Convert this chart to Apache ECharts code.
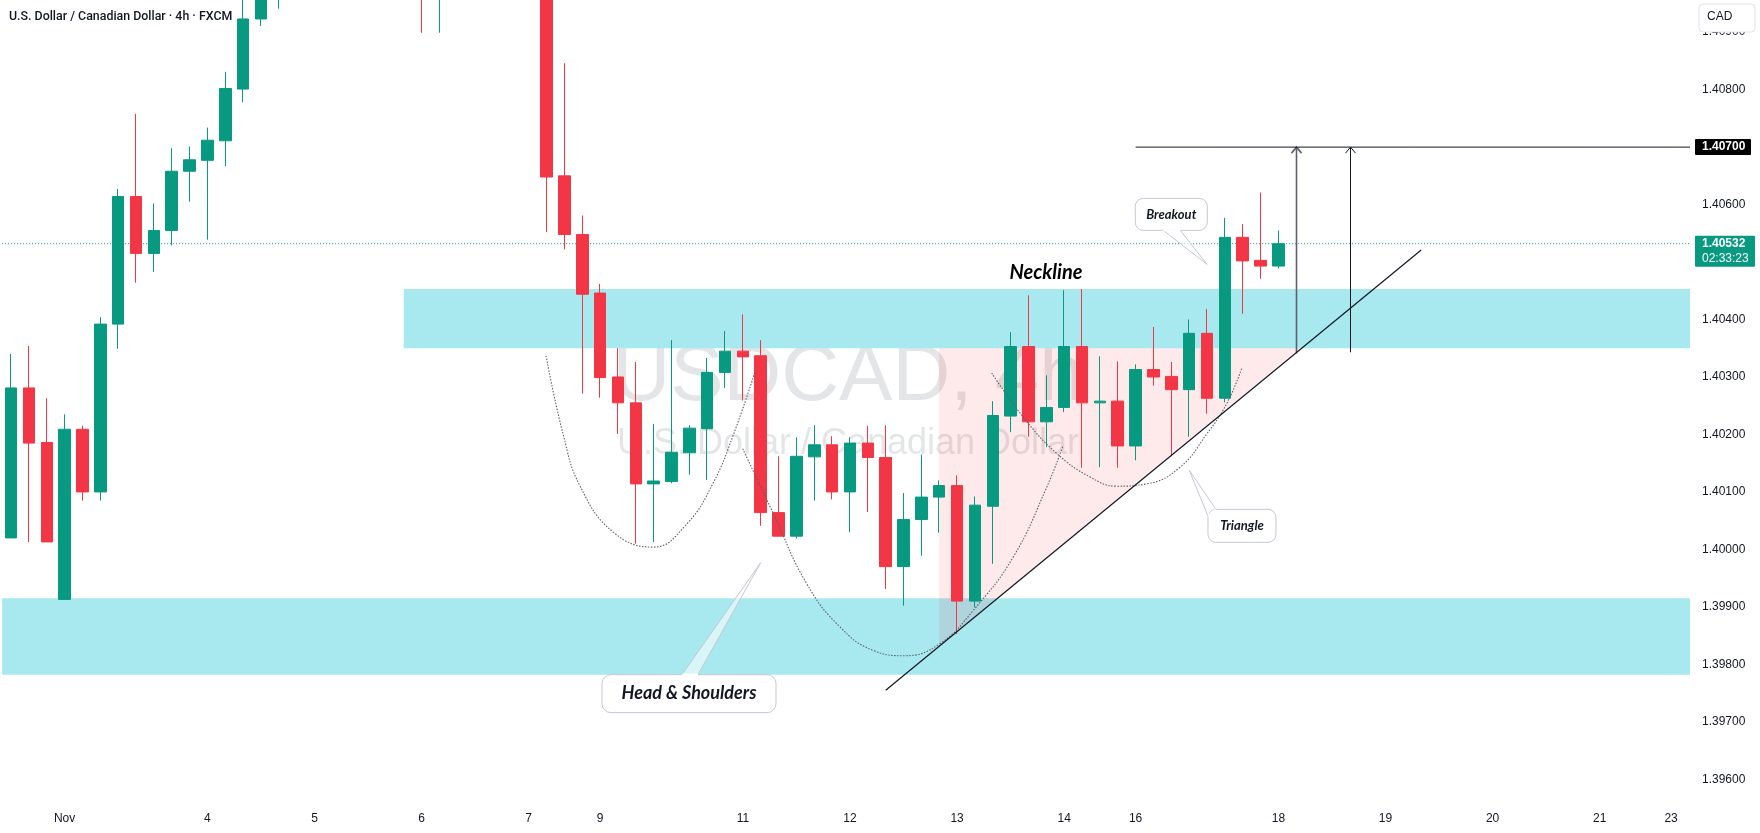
<!DOCTYPE html>
<html>
<head>
<meta charset="utf-8">
<title>USDCAD 4h</title>
<script src="https://cdn.jsdelivr.net/npm/echarts@6/dist/echarts.min.js"></script>
<style>
  html, body { margin: 0; padding: 0; background: #ffffff; }
  #chart { width: 1760px; height: 833px; }
</style>
</head>
<body>
<div id="chart"></div>
<script>
// USDCAD 4h (FXCM) - one entry per candle slot, index 0 = last candles of Oct 31
const opens = [
  1.40020, 1.40281, 1.40186, 1.39913, 1.40209, 1.40100, 1.40392, 1.40614, 1.40515, 1.40555,
  1.40658, 1.40677, 1.40711, 1.40801, 1.40923, 1.41015, 1.41060, 1.41120, 1.41090, 1.41150,
  1.41130, 1.41080, 1.41100, 1.41060, 1.41020, 1.41050, 1.41100, 1.41070, 1.41060, 1.41030,
  1.41010, 1.40650, 1.40548, 1.40446, 1.40300, 1.40255, 1.40114, 1.40118, 1.40168, 1.40210,
  1.40308, 1.40345, 1.40337, 1.40064, 1.40023, 1.40161, 1.40182, 1.40100, 1.40185, 1.40160,
  1.39970, 1.40052, 1.40091, 1.40111, 1.39910, 1.40075, 1.40232, 1.40353, 1.40222, 1.40247,
  1.40353, 1.40255, 1.40258, 1.40180, 1.40313, 1.40301, 1.40278, 1.40376, 1.40263, 1.40543,
  1.40503, 1.40493
];
const closes = [
  1.40281, 1.40185, 1.40013, 1.40209, 1.40100, 1.40392, 1.40614, 1.40515, 1.40555, 1.40658,
  1.40678, 1.40712, 1.40802, 1.40923, 1.41015, 1.41060, 1.41120, 1.41090, 1.41150, 1.41130,
  1.41080, 1.41100, 1.41060, 1.41020, 1.41050, 1.41100, 1.41070, 1.41060, 1.41030, 1.41010,
  1.40648, 1.40548, 1.40444, 1.40299, 1.40255, 1.40114, 1.40119, 1.40169, 1.40211, 1.40308,
  1.40345, 1.40335, 1.40064, 1.40023, 1.40162, 1.40182, 1.40100, 1.40185, 1.40160, 1.39970,
  1.40052, 1.40091, 1.40111, 1.39910, 1.40077, 1.40233, 1.40353, 1.40222, 1.40247, 1.40353,
  1.40255, 1.40258, 1.40180, 1.40313, 1.40300, 1.40278, 1.40376, 1.40263, 1.40543, 1.40502,
  1.40493, 1.40532
];
const lows = [
  1.40020, 1.40013, 1.40013, 1.39913, 1.40085, 1.40085, 1.40349, 1.40464, 1.40483, 1.40529,
  1.40605, 1.40539, 1.40667, 1.40778, 1.40911, 1.40941, 1.41030, 1.41050, 1.41070, 1.41100,
  1.41040, 1.41020, 1.41000, 1.40899, 1.40899, 1.41010, 1.41030, 1.41000, 1.40990, 1.40975,
  1.40552, 1.40522, 1.40271, 1.40264, 1.40201, 1.40010, 1.40013, 1.40115, 1.40130, 1.40121,
  1.40281, 1.40259, 1.40041, 1.40023, 1.40019, 1.40085, 1.40087, 1.40030, 1.40065, 1.39931,
  1.39902, 1.39989, 1.40029, 1.39853, 1.39899, 1.39975, 1.40204, 1.40196, 1.40178, 1.40239,
  1.40142, 1.40143, 1.40142, 1.40155, 1.40285, 1.40162, 1.40196, 1.40236, 1.40256, 1.40410,
  1.40471, 1.40489
];
const highs = [
  1.40340, 1.40354, 1.40263, 1.40235, 1.40215, 1.40404, 1.40627, 1.40758, 1.40602, 1.40698,
  1.40701, 1.40734, 1.40831, 1.40970, 1.41040, 1.41090, 1.41150, 1.41180, 1.41200, 1.41190,
  1.41160, 1.41130, 1.41120, 1.41090, 1.41080, 1.41130, 1.41140, 1.41100, 1.41090, 1.41050,
  1.41030, 1.40846, 1.40581, 1.40462, 1.40350, 1.40326, 1.40218, 1.40364, 1.40216, 1.40333,
  1.40380, 1.40409, 1.40364, 1.40162, 1.40195, 1.40216, 1.40197, 1.40195, 1.40215, 1.40216,
  1.40098, 1.40165, 1.40120, 1.40129, 1.40092, 1.40258, 1.40378, 1.40442, 1.40303, 1.40451,
  1.40453, 1.40336, 1.40327, 1.40322, 1.40387, 1.40326, 1.40400, 1.40418, 1.40577, 1.40566,
  1.40621, 1.40555
];

// time scale labels: [candle slot, text]
const dayTicks = [
  [3, 'Nov'], [11, '4'], [17, '5'], [23, '6'], [29, '7'], [33, '9'], [41, '11'], [47, '12'],
  [53, '13'], [59, '14'], [63, '16'], [71, '18'], [77, '19'], [83, '20'], [89, '21'], [93, '23']
];

// price levels drawn on the chart
const lastPrice = 1.40532;
const targetPrice = 1.40700;
const tagPrices = [1.40700, 1.40532];
const tagLines = [['1.40700'], ['1.40532', '02:33:23']];

// support / resistance zones: [fromSlot, topPrice, toSlot, bottomPrice]
const X_MIN = -0.5;
const X_MAX = 94.06;
const zoneBounds = [
  [22, 1.40453, X_MAX, 1.40350],
  [X_MIN, 1.39915, X_MAX, 1.39782]
];

// ascending triangle
const trianglePts = [[52, 1.40350], [72.2, 1.40350], [52, 1.39832]];
const trendPts = [[49, 1.39755], [79, 1.40521]];
const targetPts = [[63, targetPrice], [X_MAX, targetPrice]];

// measured move arrows: [slot, fromPrice, toPrice]
const arrowPts = [[72, 1.40341, 1.40700], [75, 1.40343, 1.40700]];

// head & shoulders arcs (dotted)
const leftShoulder = [
  [29.97, 1.40337], [30.94, 1.40199], [31.88, 1.40110], [33.74, 1.40030], [35.98, 1.40004],
  [37.85, 1.40044], [39.34, 1.40116], [40.46, 1.40199], [41.68, 1.40309]
];
const headArc = [
  [40.99, 1.40175], [42.71, 1.40062], [44.58, 1.39940], [46.44, 1.39865], [48.31, 1.39824],
  [50.08, 1.39815], [52.04, 1.39836], [53.91, 1.39894], [56.15, 1.39987], [58.02, 1.40108],
  [58.94, 1.40181]
];
const rightShoulder = [
  [54.94, 1.40307], [56.71, 1.40230], [58.58, 1.40167], [60.45, 1.40126], [61.94, 1.40110],
  [63.63, 1.40114], [65.49, 1.40143], [66.99, 1.40201], [68.11, 1.40254], [68.95, 1.40315]
];

// callouts: tip [slot, price] and box centre [slot, price]
const calloutTexts = ['Breakout', 'Triangle', 'Head & Shoulders'];
const calloutTips = [[67.0, 1.40496], [66.0, 1.40138], [42.0, 1.39977]];
const calloutBoxes = [[65.0, 1.40583], [68.96, 1.40041], [37.98, 1.39749]];
const calloutLook = [
  { w: 72, h: 32, r: 8, font: 13, base: [[-8, 16], [9, 16]] },
  { w: 68, h: 33, r: 8, font: 13, base: [[-34, -10], [-26, -16.5]] },
  { w: 174, h: 38, r: 9, font: 18, base: [[-7, -19], [9, -19]] }
];
const noteTexts = ['Neckline'];
const notePts = [[57.98, 1.40482]];

const UP = '#089981';
const DOWN = '#F23645';
const INK = '#131722';
const ZONE = '#a8e8ef';
const FONT = '"Liberation Sans", Arial, sans-serif';
const NOTE_FONT = 'Lato, "Open Sans", sans-serif';

const dayLabel = {};
dayTicks.forEach(([i, t]) => { dayLabel[i] = t; });

const candles = opens.map((o, i) => [i, o, closes[i], lows[i], highs[i]]);

const chart = echarts.init(document.getElementById('chart'));

const option = {
  animation: false,
  backgroundColor: '#ffffff',
  grid: {
    left: 2.14, right: 70, top: 0, bottom: 25,
    containLabel: false,
    outerBoundsMode: 'none'
  },
  xAxis: {
    type: 'value',
    min: X_MIN,
    max: X_MAX,
    interval: 0.5,
    axisLine: { show: false },
    axisTick: { show: false },
    splitLine: { show: false },
    axisLabel: {
      margin: 5,
      color: INK,
      fontSize: 12,
      fontFamily: FONT,
      showMinLabel: false,
      showMaxLabel: false,
      formatter: (v) => {
        const k = Math.round(v);
        return Math.abs(v - k) < 1e-6 && dayLabel[k] ? dayLabel[k] : '';
      }
    }
  },
  yAxis: {
    type: 'value',
    position: 'right',
    min: 1.3955,
    max: 1.40956,
    interval: 0.0005,
    scale: true,
    axisLine: { show: false },
    axisTick: { show: false },
    splitLine: { show: false },
    axisLabel: {
      margin: 12,
      align: 'left',
      color: INK,
      fontSize: 12,
      fontFamily: FONT,
      formatter: (v) => {
        const k = v * 1000;
        return Math.abs(k - Math.round(k)) < 1e-6 ? v.toFixed(5) : '';
      }
    }
  },
  graphic: [
    {
      type: 'text', left: 9, top: 11, z: 50,
      style: { text: 'U.S. Dollar / Canadian Dollar · 4h · FXCM', fill: INK, font: '500 12.4px Roboto, sans-serif' }
    },
    {
      type: 'text', x: 848, y: 378, z: 0,
      style: {
        text: 'USDCAD, 4h', fill: 'rgba(120,123,134,0.2)', font: '80px "Liberation Sans", Arial, sans-serif',
        align: 'center', verticalAlign: 'middle'
      }
    },
    {
      type: 'text', x: 848, y: 444, z: 0,
      style: {
        text: 'U.S. Dollar / Canadian Dollar', fill: 'rgba(120,123,134,0.2)', font: '36px "Liberation Sans", Arial, sans-serif',
        align: 'center', verticalAlign: 'middle'
      }
    },
    {
      type: 'rect', x: 1699, y: 4, z: 100,
      shape: { width: 56, height: 28, r: 4 },
      style: { fill: '#ffffff', stroke: '#e0e3eb', lineWidth: 1 }
    },
    {
      type: 'text', x: 1707, y: 17, z: 101,
      style: { text: 'CAD', fill: INK, font: '12px ' + FONT, verticalAlign: 'middle' }
    }
  ],
  series: [
    // zones
    {
      type: 'custom',
      z: 1,
      clip: true,
      data: zoneBounds,
      renderItem: (params, api) => {
        const a = api.coord([api.value(0), api.value(1)]);
        const b = api.coord([api.value(2), api.value(3)]);
        return {
          type: 'rect',
          shape: { x: a[0], y: a[1], width: b[0] - a[0], height: b[1] - a[1] },
          style: { fill: ZONE }
        };
      }
    },
    // triangle fill
    {
      type: 'custom',
      z: 2,
      clip: true,
      data: trianglePts,
      renderItem: (params, api) => {
        if (params.dataIndex !== 0) return null;
        return {
          type: 'polygon',
          shape: { points: trianglePts.map((p) => api.coord(p)) },
          style: { fill: 'rgba(242,54,69,0.11)' }
        };
      }
    },
    // last price line
    {
      type: 'line',
      z: 3,
      symbol: 'none',
      silent: true,
      data: [[X_MIN, lastPrice], [X_MAX, lastPrice]],
      lineStyle: { color: UP, width: 1, type: [1, 2] }
    },
    {
      type: 'candlestick',
      z: 4,
      barWidth: 12,
      encode: { x: 0, y: [1, 2, 3, 4] },
      itemStyle: {
        color: UP, color0: DOWN,
        borderColor: UP, borderColor0: DOWN,
        borderColorDoji: UP,
        borderWidth: 1
      },
      data: candles
    },
    ...[leftShoulder, headArc, rightShoulder].map((pts) => ({
      type: 'line',
      z: 5,
      symbol: 'none',
      smooth: 0.45,
      silent: true,
      data: pts,
      lineStyle: { color: '#5d606b', width: 1.1, type: [1.5, 1.5] }
    })),
    // trend line
    {
      type: 'line',
      z: 6,
      symbol: 'none',
      silent: true,
      data: trendPts,
      lineStyle: { color: INK, width: 1.2 }
    },
    // target line
    {
      type: 'line',
      z: 6,
      symbol: 'none',
      silent: true,
      data: targetPts,
      lineStyle: { color: INK, width: 1 }
    },
    // measured move arrows
    {
      type: 'custom',
      z: 6,
      data: arrowPts,
      renderItem: (params, api) => {
        const lo = api.coord([api.value(0), api.value(1)]);
        const hi = api.coord([api.value(0), api.value(2)]);
        const col = params.dataIndex === 0 ? '#5d606b' : INK;
        const lw = params.dataIndex === 0 ? 1.6 : 1;
        const x = Math.round(hi[0]) + 0.5;
        return {
          type: 'group',
          children: [
            { type: 'line', shape: { x1: x, y1: lo[1], x2: x, y2: hi[1] }, style: { stroke: col, lineWidth: lw } },
            {
              type: 'polyline',
              shape: { points: [[x - 5, hi[1] + 6], [x, hi[1]], [x + 5, hi[1] + 6]] },
              style: { stroke: col, lineWidth: lw, fill: null }
            }
          ]
        };
      }
    },
    // callouts
    {
      type: 'custom',
      z: 8,
      data: calloutTips.map((t, i) => [t[0], t[1], calloutBoxes[i][0], calloutBoxes[i][1]]),
      renderItem: (params, api) => {
        const look = calloutLook[params.dataIndex];
        const tip = api.coord([api.value(0), api.value(1)]);
        const c = api.coord([api.value(2), api.value(3)]);
        const b1 = [c[0] + look.base[0][0], c[1] + look.base[0][1]];
        const b2 = [c[0] + look.base[1][0], c[1] + look.base[1][1]];
        return {
          type: 'group',
          children: [
            {
              type: 'polygon',
              shape: { points: [b1, tip, b2] },
              style: { fill: 'rgba(255,255,255,0.55)', stroke: '#c5c8d2', lineWidth: 1 }
            },
            {
              type: 'rect',
              shape: { x: c[0] - look.w / 2, y: c[1] - look.h / 2, width: look.w, height: look.h, r: look.r },
              style: { fill: '#ffffff', stroke: '#c5c8d2', lineWidth: 1 }
            },
            {
              type: 'line',
              shape: { x1: b1[0], y1: b1[1], x2: b2[0], y2: b2[1] },
              style: { stroke: '#ffffff', lineWidth: 2 }
            },
            {
              type: 'text',
              x: c[0], y: c[1],
              style: {
                text: calloutTexts[params.dataIndex], fill: INK,
                font: 'italic bold ' + look.font + 'px ' + NOTE_FONT,
                align: 'center', verticalAlign: 'middle'
              }
            }
          ]
        };
      }
    },
    // plain notes
    {
      type: 'custom',
      z: 8,
      data: notePts,
      renderItem: (params, api) => {
        const p = api.coord([api.value(0), api.value(1)]);
        return {
          type: 'text',
          x: p[0], y: p[1],
          style: {
            text: noteTexts[params.dataIndex], fill: '#000000',
            font: 'italic bold 20px ' + NOTE_FONT,
            align: 'center', verticalAlign: 'middle'
          }
        };
      }
    },
    // price scale tags
    {
      type: 'custom',
      z: 20,
      clip: false,
      data: tagPrices.map((p) => [X_MAX, p]),
      renderItem: (params, api) => {
        const p = api.coord([api.value(0), api.value(1)]);
        const lines = tagLines[params.dataIndex];
        const bg = params.dataIndex === 0 ? '#000000' : UP;
        const w = params.dataIndex === 0 ? 56 : 60;
        const x = p[0] + 5;
        const top = p[1] - 8;
        const h = lines.length === 1 ? 16 : 31;
        const kids = [{ type: 'rect', shape: { x: x, y: top, width: w, height: h, r: 1 }, style: { fill: bg } }];
        lines.forEach((t, k) => {
          kids.push({
            type: 'text',
            x: x + 7, y: p[1] + k * 15,
            style: {
              text: t, fill: '#ffffff',
              font: (k === 0 ? 'bold ' : '') + '12px ' + FONT,
              verticalAlign: 'middle'
            }
          });
        });
        return { type: 'group', children: kids };
      }
    }
  ]
};

chart.setOption(option);
</script>
</body>
</html>
